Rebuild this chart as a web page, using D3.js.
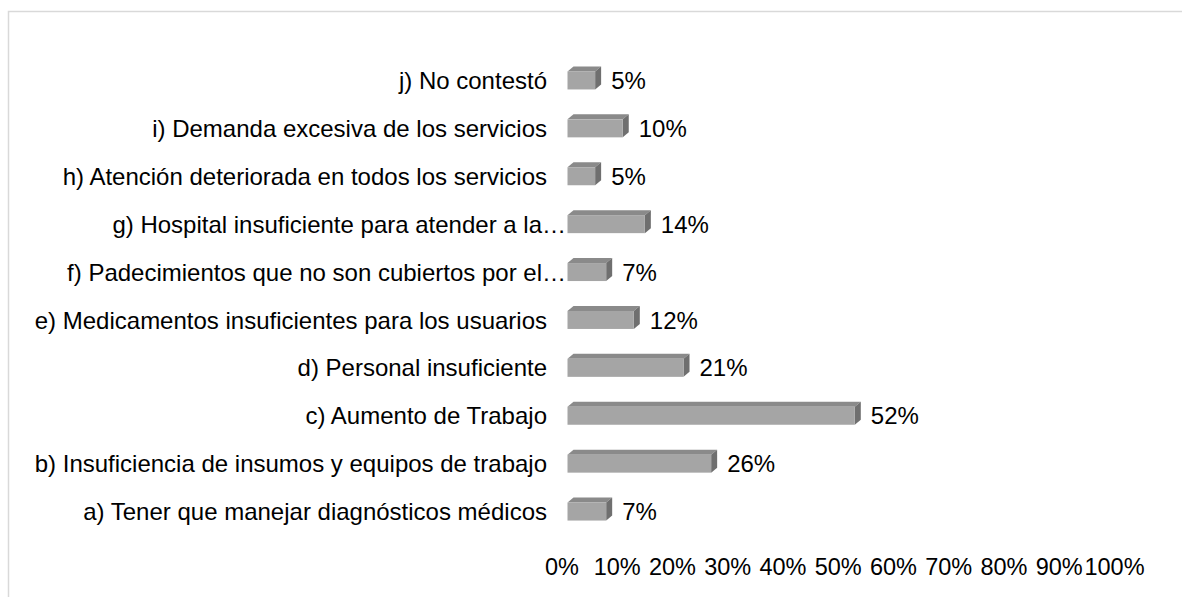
<!DOCTYPE html>
<html>
<head>
<meta charset="utf-8">
<script src="https://cdn.jsdelivr.net/npm/d3@7/dist/d3.min.js"></script>
<style>
  html, body { margin: 0; padding: 0; background: #fff; }
  svg { display: block; }
  text { font-family: "Liberation Sans", Arial, sans-serif; fill: #000; }
</style>
</head>
<body>
<svg id="chart" width="1182" height="597"></svg>
<script>
const categories = [
  "a) Tener que manejar diagnósticos médicos",
  "b) Insuficiencia de insumos y equipos de trabajo",
  "c) Aumento de Trabajo",
  "d) Personal insuficiente",
  "e) Medicamentos insuficientes para los usuarios",
  "f) Padecimientos que no son cubiertos por el…",
  "g) Hospital insuficiente para atender a la…",
  "h) Atención deteriorada en todos los servicios",
  "i) Demanda excesiva de los servicios",
  "j) No contestó"
];
const values = [7, 26, 52, 21, 12, 7, 14, 5, 10, 5];
const tickValues = [0, 10, 20, 30, 40, 50, 60, 70, 80, 90, 100];

const FS = 24;
const FSX = 23.5;
const svg = d3.select("#chart");
const W = 1182, H = 597;

// outer frame (partial, light gray)
svg.append("path")
  .attr("d", `M8.5,${H} L8.5,11.5 L${W},11.5`)
  .attr("fill", "none")
  .attr("stroke", "#d9d9d9")
  .attr("stroke-width", 1.5);

const depthX = 6, depthY = 5, barH = 18;

const x = d3.scaleLinear().domain([0, 100]).range([561.5, 1114]);
const y = d3.scaleBand()
  .domain(categories.slice().reverse())
  .range([56.5, 535.5]);

const data = categories.map((c, i) => ({ c, v: values[i] }));

const g = svg.append("g");
const bars = g.selectAll("g.bar").data(data).join("g").attr("class", "bar");

function x0() { return x(0) + depthX; }
function frontTop(d) { return y(d.c) + (y.bandwidth() - barH) / 2; }
function frontRight(d) { return x0() + (x(d.v) - x(0)); }

// top face
bars.append("path")
  .attr("d", d => {
    const t = frontTop(d), l = x0(), r = frontRight(d);
    return `M${l},${t} L${l + depthX},${t - depthY} L${r + depthX},${t - depthY} L${r},${t} Z`;
  })
  .attr("fill", "#8a8a8a");

// side face
bars.append("path")
  .attr("d", d => {
    const t = frontTop(d), r = frontRight(d);
    return `M${r},${t} L${r + depthX},${t - depthY} L${r + depthX},${t + barH - depthY} L${r},${t + barH} Z`;
  })
  .attr("fill", "#6f6f6f");

// front face
bars.append("rect")
  .attr("x", x0())
  .attr("y", d => frontTop(d))
  .attr("width", d => frontRight(d) - x0())
  .attr("height", barH)
  .attr("fill", "#a5a5a5");

// value labels
bars.append("text")
  .attr("x", d => frontRight(d) + depthX + 10)
  .attr("y", d => y(d.c) + y.bandwidth() / 2)
  .attr("dy", "0.36em")
  .attr("font-size", FS)
  .text(d => d.v + "%");

// category labels
const yAxis = d3.axisLeft(y).tickSize(0).tickPadding(0);
const ya = svg.append("g").attr("transform", "translate(547,0)").call(yAxis);
ya.select(".domain").remove();
ya.selectAll("text")
  .attr("font-size", FS)
  .attr("font-family", "Liberation Sans, Arial, sans-serif")
  .attr("fill", "#000")
  .attr("x", d => d.endsWith("…") ? 19 : 0)
  .attr("dy", "0.36em");

// x axis labels
const xAxis = d3.axisBottom(x).tickValues(tickValues).tickSize(0).tickPadding(0)
  .tickFormat(d => d + "%");
const xa = svg.append("g").attr("transform", "translate(0,567)").call(xAxis);
xa.select(".domain").remove();
xa.selectAll("text")
  .attr("font-size", FSX)
  .attr("font-family", "Liberation Sans, Arial, sans-serif")
  .attr("fill", "#000")
  .attr("y", 0)
  .attr("dy", "0.36em");
</script>
</body>
</html>
